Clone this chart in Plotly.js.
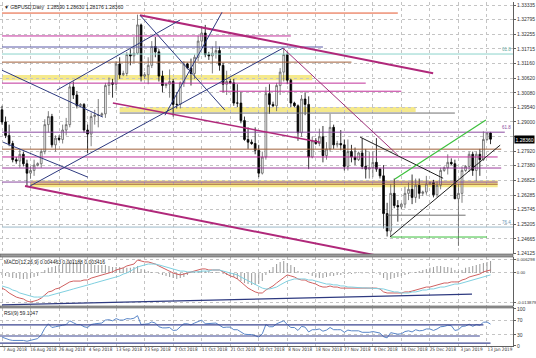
<!DOCTYPE html>
<html><head><meta charset="utf-8">
<script src="https://cdn.plot.ly/plotly-3.0.1.min.js"></script>
<style>html,body{margin:0;padding:0;background:#fff}#chart{width:536px;height:358px}</style>
</head><body><div id="chart"></div><script>
// ---- data ----
const tickIdx = [0,8,16,24,32,40,48,56,64,72,80,88,96,104,112,120,128,136];
const tickText = ['7 Aug 2018','16 Aug 2018','26 Aug 2018','4 Sep 2018','13 Sep 2018','23 Sep 2018','2 Oct 2018','11 Oct 2018','21 Oct 2018','30 Oct 2018','8 Nov 2018','18 Nov 2018','27 Nov 2018','6 Dec 2018','16 Dec 2018','25 Dec 2018','3 Jan 2019','13 Jan 2019'];
const priceTicks = [1.33335,1.32795,1.32255,1.31715,1.31160,1.30620,1.30080,1.29540,1.29000,1.28460,1.27920,1.27380,1.26825,1.26285,1.25745,1.25205,1.24665,1.24125];
const opens = [1.2945,1.2900,1.2850,1.2820,1.2760,1.2755,1.2780,1.2745,1.2710,1.2720,
1.2740,1.2745,1.2790,1.2890,1.2920,1.2815,1.2840,1.2835,1.2870,1.2890,
1.3030,1.3000,1.2960,1.2965,1.2870,1.2855,1.2920,1.2925,1.2925,1.2930,
1.3035,1.3045,1.3040,1.3115,1.3075,1.3080,1.3150,1.3145,1.3155,1.3260,
1.3070,1.3075,1.3110,1.3180,1.3160,1.3070,1.3035,1.3040,1.3050,1.2965,
1.2965,1.3045,1.3115,1.3100,1.3080,1.3140,1.3200,1.3230,1.3150,1.3145,
1.3155,1.3165,1.3110,1.3040,1.3050,1.3045,1.2970,1.2970,1.2905,1.2835,
1.2825,1.2820,1.2795,1.2710,1.2770,1.3005,1.2965,1.2960,1.3035,1.3085,
1.3150,1.3055,1.2970,1.2960,1.2860,1.2985,1.2965,1.2770,1.2830,1.2820,
1.2845,1.2775,1.2800,1.2880,1.2815,1.2820,1.2815,1.2735,1.2790,1.2770,
1.2760,1.2785,1.2735,1.2725,1.2730,1.2750,1.2725,1.2700,1.2560,1.2495,
1.2635,1.2590,1.2585,1.2595,1.2635,1.2650,1.2620,1.2665,1.2635,1.2640,
1.2670,1.2675,1.2630,1.2665,1.2720,1.2730,1.2750,1.2745,1.2615,1.2635,
1.2720,1.2735,1.2780,1.2720,1.2780,1.2760,1.2835,1.2859];
const highs = [1.2960,1.2920,1.2890,1.2830,1.2770,1.2800,1.2790,1.2760,1.2735,1.2760,
1.2750,1.2800,1.2910,1.2940,1.2930,1.2850,1.2850,1.2890,1.2915,1.3045,
1.3050,1.3015,1.2970,1.2970,1.2890,1.2935,1.2945,1.2985,1.2935,1.3045,
1.3065,1.3060,1.3125,1.3140,1.3090,1.3160,1.3170,1.3215,1.3298,1.3265,
1.3085,1.3140,1.3200,1.3215,1.3170,1.3090,1.3045,1.3095,1.3060,1.3010,
1.3050,1.3125,1.3120,1.3135,1.3150,1.3220,1.3255,1.3260,1.3160,1.3180,
1.3200,1.3180,1.3120,1.3090,1.3060,1.3060,1.3040,1.3010,1.2920,1.2880,
1.2835,1.2880,1.2815,1.2790,1.3030,1.3040,1.2975,1.3045,1.3100,1.3175,
1.3160,1.3060,1.2975,1.2965,1.3000,1.3010,1.2995,1.2845,1.2840,1.2875,
1.2885,1.2825,1.2930,1.2890,1.2830,1.2870,1.2835,1.2835,1.2815,1.2805,
1.2790,1.2840,1.2800,1.2790,1.2790,1.2840,1.2730,1.2740,1.2600,1.2670,
1.2690,1.2610,1.2600,1.2660,1.2675,1.2705,1.2690,1.2690,1.2645,1.2700,
1.2680,1.2685,1.2680,1.2730,1.2735,1.2780,1.2765,1.2760,1.2670,1.2735,
1.2740,1.2790,1.2790,1.2790,1.2800,1.2865,1.2860,1.2863];
const lows = [1.2890,1.2840,1.2810,1.2750,1.2745,1.2730,1.2735,1.2662,1.2690,1.2700,
1.2735,1.2730,1.2780,1.2860,1.2805,1.2790,1.2830,1.2820,1.2850,1.2880,
1.2985,1.2950,1.2955,1.2860,1.2785,1.2810,1.2890,1.2880,1.2920,1.2915,
1.3000,1.2990,1.3015,1.3060,1.3070,1.3070,1.3110,1.3120,1.3150,1.3050,
1.3060,1.3040,1.3100,1.3140,1.3050,1.3010,1.3025,1.2990,1.2920,1.2950,
1.2950,1.3030,1.3095,1.3035,1.3060,1.3125,1.3180,1.3140,1.3130,1.3080,
1.3135,1.3090,1.3010,1.3000,1.3040,1.2960,1.2955,1.2895,1.2830,1.2800,
1.2815,1.2780,1.2695,1.2705,1.2760,1.2930,1.2955,1.2940,1.3000,1.3050,
1.3040,1.2955,1.2955,1.2830,1.2845,1.2925,1.2725,1.2765,1.2815,1.2810,
1.2750,1.2760,1.2790,1.2800,1.2805,1.2795,1.2720,1.2720,1.2750,1.2740,
1.2755,1.2725,1.2690,1.2690,1.2695,1.2715,1.2690,1.2505,1.2475,1.2475,
1.2580,1.2530,1.2575,1.2580,1.2610,1.2595,1.2600,1.2615,1.2625,1.2630,
1.2665,1.2620,1.2620,1.2650,1.2715,1.2705,1.2740,1.2615,1.2440,1.2600,
1.2715,1.2715,1.2700,1.2680,1.2700,1.2755,1.2830,1.28176];
const closes = [1.2900,1.2850,1.2820,1.2760,1.2755,1.2780,1.2745,1.2710,1.2720,1.2740,
1.2745,1.2790,1.2890,1.2920,1.2815,1.2840,1.2835,1.2870,1.2890,1.3030,
1.3000,1.2960,1.2965,1.2870,1.2855,1.2920,1.2925,1.2925,1.2930,1.3035,
1.3045,1.3040,1.3115,1.3075,1.3080,1.3150,1.3145,1.3155,1.3260,1.3070,
1.3075,1.3110,1.3180,1.3160,1.3070,1.3035,1.3040,1.3050,1.2965,1.2965,
1.3045,1.3115,1.3100,1.3080,1.3140,1.3200,1.3230,1.3150,1.3145,1.3155,
1.3165,1.3110,1.3040,1.3050,1.3045,1.2970,1.2970,1.2905,1.2835,1.2825,
1.2820,1.2795,1.2710,1.2770,1.3005,1.2965,1.2960,1.3035,1.3085,1.3150,
1.3055,1.2970,1.2960,1.2860,1.2985,1.2965,1.2770,1.2830,1.2820,1.2845,
1.2775,1.2800,1.2880,1.2815,1.2820,1.2815,1.2735,1.2790,1.2770,1.2760,
1.2785,1.2735,1.2725,1.2730,1.2750,1.2725,1.2700,1.2560,1.2495,1.2635,
1.2590,1.2585,1.2595,1.2635,1.2650,1.2620,1.2665,1.2635,1.2640,1.2670,
1.2675,1.2630,1.2665,1.2720,1.2730,1.2750,1.2745,1.2615,1.2635,1.2720,
1.2735,1.2780,1.2720,1.2780,1.2760,1.2835,1.2859,1.2836];
const macdMain = [-.0071,-.0080,-.0094,-.0103,-.0113,-.0118,-.0122,-.0132,-.0136,-.0132,
-.0127,-.0118,-.0103,-.0089,-.0085,-.0075,-.0071,-.0061,-.0052,-.0042,
-.0038,-.0038,-.0038,-.0033,-.0033,-.0024,-.0019,-.0014,-.0009,-.0005,
.0000,.0005,.0014,.0019,.0024,.0033,.0038,.0042,.0061,.0056,
.0052,.0052,.0047,.0042,.0033,.0024,.0014,.0009,.0000,-.0005,
-.0009,-.0005,.0000,.0005,.0009,.0014,.0019,.0019,.0014,.0014,
.0014,.0014,.0005,-.0005,-.0014,-.0019,-.0028,-.0042,-.0056,-.0071,
-.0080,-.0089,-.0094,-.0094,-.0080,-.0071,-.0061,-.0047,-.0033,-.0019,
-.0009,-.0014,-.0019,-.0028,-.0033,-.0033,-.0042,-.0047,-.0052,-.0061,
-.0066,-.0066,-.0061,-.0066,-.0066,-.0071,-.0071,-.0071,-.0070,-.0071,
-.0072,-.0071,-.0072,-.0071,-.0070,-.0071,-.0075,-.0089,-.0094,-.0094,
-.0094,-.0094,-.0094,-.0089,-.0089,-.0085,-.0080,-.0075,-.0071,-.0066,
-.0066,-.0061,-.0056,-.0052,-.0047,-.0047,-.0042,-.0042,-.0042,-.0033,
-.0028,-.0019,-.0014,-.0009,-.0005,.0005,.0009,.0014];
const macdSignal = [-.0061,-.0066,-.0071,-.0080,-.0085,-.0094,-.0099,-.0103,-.0108,-.0113,
-.0113,-.0113,-.0108,-.0108,-.0103,-.0099,-.0094,-.0089,-.0085,-.0080,
-.0075,-.0071,-.0066,-.0061,-.0056,-.0052,-.0047,-.0042,-.0038,-.0033,
-.0028,-.0024,-.0019,-.0014,-.0005,.0000,.0009,.0019,.0028,.0033,
.0038,.0042,.0042,.0042,.0038,.0033,.0028,.0024,.0019,.0014,
.0009,.0009,.0005,.0005,.0005,.0005,.0009,.0009,.0009,.0014,
.0014,.0014,.0009,.0005,.0000,-.0005,-.0009,-.0019,-.0028,-.0038,
-.0047,-.0056,-.0066,-.0071,-.0075,-.0075,-.0071,-.0066,-.0056,-.0047,
-.0038,-.0033,-.0028,-.0028,-.0028,-.0028,-.0033,-.0033,-.0038,-.0042,
-.0047,-.0052,-.0052,-.0056,-.0056,-.0061,-.0061,-.0066,-.0066,-.0068,
-.0069,-.0070,-.0070,-.0071,-.0071,-.0071,-.0071,-.0075,-.0080,-.0085,
-.0089,-.0089,-.0094,-.0094,-.0094,-.0089,-.0089,-.0085,-.0080,-.0080,
-.0075,-.0075,-.0071,-.0066,-.0066,-.0061,-.0056,-.0052,-.0052,-.0047,
-.0042,-.0038,-.0033,-.0028,-.0024,-.0019,-.0014,-.0009];
const macdHist = [-.0009,-.0014,-.0019,-.0024,-.0024,-.0028,-.0028,-.0028,-.0024,-.0019,
-.0014,.0005,.0014,.0024,.0028,.0033,.0038,.0042,.0047,.0052,
.0052,.0047,.0047,.0042,.0042,.0042,.0038,.0038,.0038,.0038,
.0033,.0028,.0028,.0028,.0024,.0024,.0024,.0028,.0033,.0019,
.0014,.0009,.0005,.0002,-.0005,-.0009,-.0014,-.0019,-.0024,-.0028,
-.0024,-.0019,-.0009,.0005,.0005,.0009,.0009,.0009,.0009,.0005,
.0005,.0002,-.0005,-.0009,-.0014,-.0019,-.0028,-.0038,-.0047,-.0052,
-.0056,-.0056,-.0052,-.0038,-.0009,.0014,.0028,.0042,.0052,.0056,
.0047,.0038,.0028,.0009,.0005,.0002,-.0005,-.0014,-.0019,-.0024,
-.0024,-.0019,-.0014,-.0014,-.0009,-.0009,-.0005,-.0005,-.0005,-.0003,
.0003,-.0003,.0003,-.0003,.0003,-.0003,-.0009,-.0024,-.0033,-.0028,
-.0024,-.0019,-.0014,-.0009,-.0005,.0002,.0005,.0009,.0014,.0019,
.0024,.0028,.0033,.0033,.0028,.0028,.0024,.0014,.0009,.0014,
.0024,.0028,.0033,.0038,.0042,.0047,.0052,.0056];
const rsi = [24,20,17,15,15,16,15,13,15,18,
20,30,48,60,50,52,53,56,58,68,
63,58,58,52,50,58,60,62,62,70,
71,68,74,70,70,74,73,75,82,58,
58,60,65,62,52,49,49,50,42,43,
52,60,60,57,62,67,70,60,60,60,
62,56,50,51,51,44,44,38,32,31,
31,28,24,33,58,52,52,60,64,68,
58,50,50,42,53,51,38,44,44,46,
40,43,50,44,44,44,37,43,41,40,
41,37,36,37,39,37,35,25,22,36,
33,32,33,39,41,38,44,41,42,46,
46,42,46,52,53,56,55,42,44,53,
54,59,53,58,56,64,65,59.1];
// drawn horizontal levels: price, from bar, to bar
const levelPrice = [1.3304,1.3219,1.3178,1.3152,1.3122,1.3044,1.3014,1.2933,1.2862,1.2799,1.2770,1.2729,1.2677,1.2669,1.2554,1.2510,1.2473];
const levelFrom  = [0,0,0,0,0,0,61,33,0,0,0,0,0,8,108,0,109];
const levelTo    = [111,81,90,144,98,102,112,127,141,140,139,140,139,139,130,144,136];
// shaded zones: low, high, from, to
const zoneLow  = [1.3055,1.2937,1.2658];
const zoneHigh = [1.3074,1.2955,1.2684];
const zoneFrom = [0,33,8];
const zoneTo   = [87,116,139];
// trend lines: bar0, price0, bar1, price1
const trendBar0   = [38.7,6.45,31.1,7.85,15.4,0,0.3,38.7,78.8,100.4,108.8,110.2,45.7];
const trendPrice0 = [1.3296,1.2662,1.2970,1.2662,1.3018,1.3092,1.2825,1.3296,1.3174,1.2844,1.2473,1.2688,1.2925];
const trendBar1   = [120.9,106,89.2,78.8,49.9,28.3,24.1,62.5,111,123.7,139.7,135.7,61.7];
const trendPrice1 = [1.3081,1.2402,1.2825,1.3174,1.3278,1.2918,1.2695,1.2944,1.2777,1.2691,1.2814,1.2907,1.3307];
// indicator-window lines
const macdLineBar = [0,131.8], macdLineVal = [-0.0150,-0.0099];
const rsiLevel = [57,27,8], rsiLevelTo = [135,134,137];

// ---- styles ----
const levelColor = ['#e4572e','#c0309a','#5a5aa8','#8cd3cc','#a0603a','#c0309a','#c0309a','#707070','#8a4aa0','#a0603a','#c0309a','#9a3a9a','#8a4aa0','#a0603a','#707070','#9cb8c8','#3cc03c'];
const trendColor = ['#b0287a','#b0287a','#b0287a','#2e3a80','#2e3a80','#2e3a80','#2e3a80','#2e3a80','#a0307a','#202020','#202020','#3cc03c','#2e3a80'];
const trendWidth = [2,2,1.5,1,1,1,1,1,1,1,1,1.2,1];

const idx = opens.map((_, i) => i);
const F = 'Liberation Sans, Arial, sans-serif';
const FN = 'Liberation Sans Narrow, DejaVu Sans Condensed, Liberation Sans, sans-serif';
const shapes = [];
for (let k = 0; k < zoneLow.length; k++) {
  shapes.push({type:'rect', xref:'x', yref:'y', x0:zoneFrom[k], x1:zoneTo[k], y0:zoneLow[k], y1:zoneHigh[k], fillcolor:'#f5e98c', line:{width:0}, layer:'below'});
}
for (let k = 0; k < levelPrice.length; k++) {
  shapes.push({type:'line', xref:'x', yref:'y', x0:levelFrom[k], x1:levelTo[k], y0:levelPrice[k], y1:levelPrice[k], line:{color:levelColor[k], width:1}});
}
for (let k = 0; k < trendBar0.length; k++) {
  shapes.push({type:'line', xref:'x', yref:'y', x0:trendBar0[k], x1:trendBar1[k], y0:trendPrice0[k], y1:trendPrice1[k], line:{color:trendColor[k], width:trendWidth[k]}});
}
shapes.push({type:'line', xref:'x', yref:'y2', x0:macdLineBar[0], x1:macdLineBar[1], y0:macdLineVal[0], y1:macdLineVal[1], line:{color:'#2e3a80', width:1.2}});
for (let k = 0; k < rsiLevel.length; k++) {
  shapes.push({type:'line', xref:'x', yref:'y3', x0:-1, x1:rsiLevelTo[k], y0:rsiLevel[k], y1:rsiLevel[k], line:{color:'#3a4490', width:1.2}});
}
// window separators
[[0.1105,0.1163],[0.2587,0.2674]].forEach(s => {
  shapes.push({type:'rect', xref:'paper', yref:'paper', x0:0, x1:1, y0:s[0], y1:s[1], fillcolor:'#9a9a9a', line:{color:'#555', width:0.6}, layer:'above'});
});

const traces = [
  {type:'candlestick', x:idx, open:opens, high:highs, low:lows, close:closes, xaxis:'x', yaxis:'y',
   increasing:{line:{color:'#606060', width:0.8}, fillcolor:'#ffffff'},
   decreasing:{line:{color:'#000000', width:0.8}, fillcolor:'#000000'},
   whiskerwidth:0, hoverinfo:'none', showlegend:false},
  {type:'bar', x:idx, y:macdHist, xaxis:'x', yaxis:'y2', width:0.3, marker:{color:'#a0a0a0', line:{width:0}}, showlegend:false, hoverinfo:'none'},
  {type:'scatter', mode:'lines', x:idx, y:macdMain, xaxis:'x', yaxis:'y2', line:{color:'#d06060', width:1}, showlegend:false, hoverinfo:'none'},
  {type:'scatter', mode:'lines', x:idx, y:macdSignal, xaxis:'x', yaxis:'y2', line:{color:'#7fd0e0', width:1}, showlegend:false, hoverinfo:'none'},
  {type:'scatter', mode:'lines', x:idx, y:rsi, xaxis:'x', yaxis:'y3', line:{color:'#5a86c8', width:1}, showlegend:false, hoverinfo:'none'}
];

const grid = {showgrid:true, gridcolor:'#c4c4c4', griddash:'dot', gridwidth:1};
const yCommon = Object.assign({side:'right', showline:true, linecolor:'#606060', linewidth:1, mirror:true, ticks:'outside', ticklen:2, tickcolor:'#606060', tickfont:{family:F, size:5, color:'#333'}, zeroline:false, fixedrange:true}, grid);
const layout = {
  width:536, height:358, margin:{l:0, r:23, t:2, b:12}, paper_bgcolor:'#fff', plot_bgcolor:'#fff', showlegend:false,
  font:{family:F, size:5, color:'#333'},
  xaxis: Object.assign({anchor:'y3', range:[-0.56, 143.3], rangeslider:{visible:false}, tickvals:tickIdx, ticktext:tickText, ticks:'', tickangle:0, tickfont:{family:FN, size:4.6, color:'#333'}, ticklabelshift:13, ticklabelstandoff:-2, showline:true, linecolor:'#606060', mirror:true, zeroline:false}, grid),
  yaxis: Object.assign({}, yCommon, {domain:[0.2674,1], range:[1.2410,1.3345], tickvals:priceTicks, ticktext:priceTicks.map(v => Math.abs(v-1.2846)<1e-6 ? '' : v.toFixed(5))}),
  yaxis2: Object.assign({}, yCommon, {domain:[0.1163,0.2587], range:[-0.0155,0.0075], tickvals:[0.006298,0,-0.013879], ticktext:['0.006298','0.00','-0.013879'], tickfont:{family:F, size:4.3, color:'#333'}}),
  yaxis3: Object.assign({}, yCommon, {domain:[0,0.1105], range:[0,102.7], tickvals:[100,70,30,0], ticktext:['100','70','30','0']}),
  shapes: shapes,
  annotations: [
    {xref:'paper', yref:'paper', x:0.004, y:1, xanchor:'left', yanchor:'top', text:'\u25BC GBPUSD,Daily  1.28590 1.28630 1.28176 1.28360', showarrow:false, font:{family:F, size:5, color:'#222'}},
    {xref:'paper', yref:'paper', x:0.004, y:0.2587, xanchor:'left', yanchor:'top', text:'MACD(12,26,9) 0.004463 0.001188 0.003416', showarrow:false, font:{family:F, size:5, color:'#222'}},
    {xref:'paper', yref:'paper', x:0.004, y:0.1105, xanchor:'left', yanchor:'top', text:'RSI(9) 59.1047', showarrow:false, font:{family:F, size:5, color:'#222'}},
    {xref:'paper', yref:'y', x:1, y:1.2836, xanchor:'left', yanchor:'middle', xshift:1, text:'1.28360', showarrow:false, bgcolor:'#000', font:{family:F, size:5, color:'#fff'}, borderpad:0.5},
    {xref:'x', yref:'y', x:141.5, y:1.3152, xanchor:'center', yanchor:'bottom', text:'61.8', showarrow:false, font:{family:F, size:4.5, color:'#5aa8a0'}},
    {xref:'x', yref:'y', x:141.5, y:1.2862, xanchor:'center', yanchor:'bottom', text:'61.8', showarrow:false, font:{family:F, size:4.5, color:'#8a4aa0'}},
    {xref:'x', yref:'y', x:141.5, y:1.2510, xanchor:'center', yanchor:'bottom', text:'76.4', showarrow:false, font:{family:F, size:4.5, color:'#6a98b8'}}
  ]
};
Plotly.newPlot('chart', traces, layout, {staticPlot:true, displayModeBar:false});
</script></body></html>
